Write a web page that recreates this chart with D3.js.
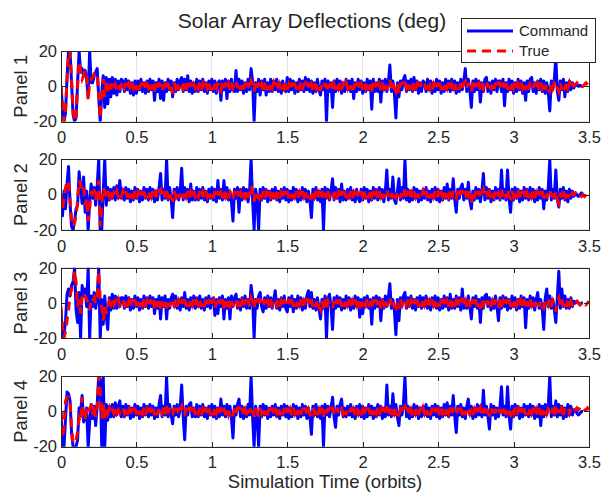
<!DOCTYPE html>
<html lang="en">
<head>
<meta charset="UTF-8">
<title>Solar Array Deflections (deg)</title>
<style>
body {
  margin: 0;
  background: #fff;
}
svg {
  display: block;
  font-family: "Liberation Sans", Arial, Helvetica, sans-serif;
}
.axis path,
.axis line {
  fill: none;
  stroke: #262626;
  shape-rendering: crispEdges;
}
.axis text {
  fill: #262626;
  font-size: 16.5px;
}
.grid line {
  stroke: #e6e6e6;
  shape-rendering: crispEdges;
}
.label {
  fill: #262626;
  font-size: 18.5px;
}
.legend text {
  fill: #262626;
  font-size: 15px;
}
</style>
</head>
<body>
<div class="vizHolder"></div>
<script src="https://cdnjs.cloudflare.com/ajax/libs/d3/7.8.5/d3.min.js"></script>
<script>
// sample times (orbits)
var times = [
  0,0.01,0.02,0.03,0.04,0.05,0.06,0.07,0.08,0.09,0.1,0.11,0.12,0.13,0.14,0.15,0.16,0.17,0.18,0.19,0.2,0.21,0.22,0.23,0.24,0.25,0.26,0.27,0.28,0.29,0.3,0.31,0.32,0.33,0.34,0.35,0.36,0.37,0.38,0.39,0.4,
  0.41,0.42,0.43,0.44,0.45,0.46,0.47,0.48,0.49,0.5,0.51,0.52,0.53,0.54,0.55,0.56,0.57,0.58,0.59,0.6,0.61,0.62,0.63,0.64,0.65,0.66,0.67,0.68,0.69,0.7,0.71,0.72,0.73,0.74,0.75,0.76,0.77,0.78,0.79,0.8,0.81,0.82,0.83,0.84,0.85,0.86,0.87,0.88,0.89,0.9,
  0.91,0.92,0.93,0.94,0.95,0.96,0.97,0.98,0.99,1,1.01,1.02,1.03,1.04,1.05,1.06,1.07,1.08,1.09,1.1,1.11,1.12,1.13,1.14,1.15,1.16,1.17,1.18,1.19,1.2,1.21,1.22,1.23,1.24,1.25,1.26,1.27,1.28,1.29,1.3,1.31,1.32,1.33,1.34,1.35,1.36,1.37,1.38,1.39,1.4,
  1.41,1.42,1.43,1.44,1.45,1.46,1.47,1.48,1.49,1.5,1.51,1.52,1.53,1.54,1.55,1.56,1.57,1.58,1.59,1.6,1.61,1.62,1.63,1.64,1.65,1.66,1.67,1.68,1.69,1.7,1.71,1.72,1.73,1.74,1.75,1.76,1.77,1.78,1.79,1.8,1.81,1.82,1.83,1.84,1.85,1.86,1.87,1.88,1.89,1.9,
  1.91,1.92,1.93,1.94,1.95,1.96,1.97,1.98,1.99,2,2.01,2.02,2.03,2.04,2.05,2.06,2.07,2.08,2.09,2.1,2.11,2.12,2.13,2.14,2.15,2.16,2.17,2.18,2.19,2.2,2.21,2.22,2.23,2.24,2.25,2.26,2.27,2.28,2.29,2.3,2.31,2.32,2.33,2.34,2.35,2.36,2.37,2.38,2.39,2.4,
  2.41,2.42,2.43,2.44,2.45,2.46,2.47,2.48,2.49,2.5,2.51,2.52,2.53,2.54,2.55,2.56,2.57,2.58,2.59,2.6,2.61,2.62,2.63,2.64,2.65,2.66,2.67,2.68,2.69,2.7,2.71,2.72,2.73,2.74,2.75,2.76,2.77,2.78,2.79,2.8,2.81,2.82,2.83,2.84,2.85,2.86,2.87,2.88,2.89,2.9,
  2.91,2.92,2.93,2.94,2.95,2.96,2.97,2.98,2.99,3,3.01,3.02,3.03,3.04,3.05,3.06,3.07,3.08,3.09,3.1,3.11,3.12,3.13,3.14,3.15,3.16,3.17,3.18,3.19,3.2,3.21,3.22,3.23,3.24,3.25,3.26,3.27,3.28,3.29,3.3,3.31,3.32,3.33,3.34,3.35,3.36,3.37,3.38,3.39,3.4,
  3.41,3.42,3.43,3.44,3.45,3.46,3.47,3.48,3.49,3.5
];

// Panel 1
var cmd1 = [
  0,-12,-20,-15,5,20,20,2,-16,-20,-18,2,20,8,10,6,9,4,-6,20,2,2,6,8,10,-6,-20,-4,6,-12,5,-10,4,-6,5,-4,4,-5,3,-3,4,
  3,-3,4,-2,3,-4,2,-5,3,-4, 3,-2,4,-3,2,-4,3,-3,4,-2, 3,-8,2,-3,4,-7,3,-8,2,-3, 4,-2,3,-6,2,-3,4,-2,3,5, -3,4,-2,6,-3,3,-4,2,-3,4,
  -3,3,-2,4,-3,2,-4,3,-2,4, -3,3,-4,2,3,-8,3,-2,4,-7, 3,-3,4,-2,-3,9,-3,4,-2,3, -4,2,-3,4,-2,10,3,-20,2,-3, 4,-5,3,-2,4,-5,2,-3,4,-3,
  3,-2,4,-3,2,-4,3,-2,-3,5, -3,4,-2,3,-4,2,-3,4,-2,3, -3,5,-2,4,-3,3,-4,2,-3,4, -2,-5,3,-2,4,-20,3,-3,2,-12, 3,-3,4,-2,3,-4,2,-3,4,-2,
  3,-3,4,-7,2,-3,4,-2,3,-4, 2,-3,4,-2,3,-13,4,-3,2,-3, 4,-9,3,-2,4,-3,2,12,-3,3, -4,-18,2,-6,3,-2,4,6,-3,3, -2,4,-3,5,-2,3,-4,2,-3,3,
  2,-3,4,-2,3,-4,2,-3,4,-2, 3,-4,2,-3,4,-2,3,-3,4,-2, 3,-4,2,-3,4,-2,3,10,-3,4, -2,-12,3,-3,4,-2,3,-9,2,-3, 4,5,-3,2,-4,3,-2,4,-3,3,
  3,-3,4,-11,2,-3,4,-2,3,-4, 2,-3,4,-2,3,-4,2,-8,3,-3, 4,5,-3,2,-4,3,-2,4,-3,3, -4,2,-3,-14,3,-2,4,16,-3,-8, 3,-2,4,-6,2,-3,3,-2,2,-1,
  1,0.5,0,0.5,0,0,null,null,null,null
];
var true1 = [
  0,-10,-20,-14,4,18,20,4,-14,-20,-16,0,14,8,4,6,9,8,-8,2,4,5,7,8,6,-4,-18,-6,4,-6,2,-3,2,-2,2,-1,1,-2,1,-1,1,
  2,-1,2,-2,1,-2,2,-1,2,-2, 1,-2,2,-1,2,-2,1,-1,2,-2, 1,-3,2,-1,2,-2,1,-3,2,-1, 2,-2,1,-4,2,-1,2,-2,1,2, -1,2,-2,2,-1,2,-2,1,-1,2,
  -1,2,-2,1,-2,2,-1,2,-2,1, -2,2,-1,2,-2,-3,2,-1,2,-2, 1,-2,2,-1,2,3,-1,2,-2,1, -2,2,-1,2,-2,3,1,-3,2,-1, 2,-2,1,-2,2,-2,1,-2,2,-1,
  2,-1,2,-2,1,-2,2,-1,2,-2, 1,-2,2,-1,2,-2,1,-1,2,-2, 1,2,-1,2,-2,1,-2,2,-1,2, -2,-2,1,-1,2,-3,1,-2,2,-2, 1,-2,2,-1,2,-2,1,-1,2,-1,
  2,-2,1,-2,2,-1,2,-2,1,-2, 2,-1,2,-2,1,-3,2,-1,2,-2, 1,-2,2,-1,2,-2,1,4,-1,2, -1,-3,1,-4,2,-1,2,2,-1,2, -2,2,-1,2,-2,1,-2,2,-1,1,
  1,-2,2,-1,2,-2,1,-2,2,-1, 2,-2,1,-2,2,-1,2,-2,1,-1, 2,-2,1,-2,2,-1,2,3,-1,2, -2,-3,2,-1,2,-2,1,-2,2,-1, 2,3,-1,2,-2,1,-2,2,-1,2,
  2,-2,2,-1,2,-2,1,-2,2,-1, 2,-2,1,-2,2,-1,2,-2,1,-2, 2,2,-1,2,-2,1,-2,2,-1,2, -2,1,-2,-3,2,-1,2,3,-1,-3, 2,-2,1,-2,2,-1,2,-1,1,0,
  1,2,1,0,-1,0,1,2,1,0
];

// Panel 2
var cmd2 = [
  -3,-12,2,-8,6,16,-5,-18,-20,-15,-8,-6,13,4,-5,10,-10,2,-20,-4,6,-2,4,-6,5,20,-20,-20,2,20,-6,4,-3,3,-2,4,-3,5,-2,8,-2,
  3,-3,4,-2,3,-4,2,-3,4,-2, 3,-4,2,-3,4,-2,3,-3,4,-2, 3,-4,2,-3,4,12,-3,3,-2,20, -3,4,-2,-13,3,-2,4,-3,2,15, -3,4,-2,3,-4,6,-3,2,-3,4,
  -3,3,-2,4,-3,2,-4,3,-2,4, -3,3,-4,8,-2,3,-3,8,-2,4, -3,2,-4,-15,3,-2,4,-10,3,-3, 4,-2,3,-4,2,20,-3,-20,3,-2, -20,3,-3,4,-2,3,-4,2,-3,3,
  -2,4,-3,2,-4,3,-2,4,-3,3, -4,2,-3,4,-2,3,-4,2,-3,4, -2,3,-4,2,-3,-13,3,-2,4,-3, 2,-4,3,-20,4,-2,3,-3,2,9, -3,4,-2,3,-4,6,-3,2,-3,3,
  -2,4,-3,2,-4,3,-2,-4,3,-3, 4,-2,3,-4,2,-3,4,-2,3,-3, 4,-2,3,-4,2,14,-3,3,-2,10, -3,-5,2,9,-3,4,-2,20,-3,3, -4,2,-3,4,-2,3,-4,2,-3,3,
  -2,4,-3,2,-4,3,-2,4,-3,3, -4,2,-3,4,-2,6,-3,3,-2,9, -3,-10,3,-2,4,6,-3,3,-2,7, -3,-8,2,-3,4,-2,3,-4,2,12, -3,4,-2,3,-4,2,-3,4,-2,3,
  -3,14,-2,3,-3,14,-2,-10,3,-3, 4,-2,3,-4,2,-3,4,-2,3,-3, 4,-2,3,-4,2,-3,4,-2,3,-8, 2,-3,4,20,-3,3,-2,14,-3,-7, 3,-2,4,-3,2,-4,3,-2,2,-1,
  1,0,-1,0,1,0,null,null,null,null
];
var true2 = [
  0,-8,-2,4,8,6,-2,-14,-18,-16,-12,-4,8,6,2,4,-6,-2,-15,-8,2,-2,3,-3,2,8,-18,-6,4,2,-2,2,-1,2,-1,1,-1,2,-1,1,-1,
  2,-1,2,-2,1,-2,2,-1,2,-2, 1,-2,2,-1,2,-2,1,-2,2,-1, 2,-2,1,-2,2,3,-1,2,-2,2, -1,2,-2,-3,2,-1,2,-2,1,2, -2,2,-1,2,-2,1,-2,2,-1,1,
  -1,2,-2,1,-2,2,-1,2,-2,1, -2,2,-1,2,-2,1,-2,2,-1,2, -2,1,-2,-2,2,-1,2,-2,1,-2, 2,-1,2,-2,3,5,1,-4,2,-1, -2,2,-1,2,-2,1,-2,2,-1,2,
  -2,2,-1,2,-2,1,-2,2,-1,2, -2,1,-2,2,-1,2,-2,1,-2,2, -1,2,-2,1,-2,-2,2,-1,2,-2, 1,-2,2,-3,1,-2,2,-1,2,2, -1,2,-2,1,-2,2,-1,2,-2,1,
  -1,2,-2,1,-2,2,-1,-2,2,-1, 2,-2,1,-2,2,-1,2,-2,1,-2, 2,-1,2,-2,1,3,-1,2,-2,2, -1,-2,1,2,-2,2,-1,3,-1,2, -2,1,-2,2,-1,2,-2,1,-1,2,
  -1,2,-2,1,-2,2,-1,2,-2,1, -2,2,-1,2,-2,2,-1,2,-2,2, -1,-2,2,-1,2,2,-1,2,-2,2, -3,-5,1,-2,2,-1,2,-2,1,3, -1,2,-2,1,-2,2,-1,2,-1,1,
  -1,3,-1,2,-2,3,-1,-2,2,-1, 2,-2,1,-2,2,-1,2,-2,1,-2, 2,-1,2,-2,1,-2,2,-1,2,-2, 1,-2,2,3,-1,2,-2,2,-3,-5, 1,-2,2,-1,2,-2,1,-1,1,0,
  1,2,1,0,-1,0,-1,0,1,0
];

// Panel 3
var cmd3 = [
  -4,-20,-18,-10,5,8,4,10,12,20,-4,-11,6,-20,10,4,8,-2,20,-20,4,-2,6,-3,4,20,-20,2,-12,4,-8,-15,3,-4,5,-3,4,-3,3,-2,3,
  3,-3,4,-2,3,-4,2,-3,4,-2, 3,-4,2,-3,4,-2,3,-3,4,-2, 3,-6,2,-3,4,-9,3,-2,4,-9, 2,-3,3,5,-2,4,-3,2,-4,3, -2,6,-3,2,-4,3,-2,4,-3,3,
  -2,4,-3,2,-4,3,-2,4,-3,2, 3,-7,2,-6,3,-2,4,-9,2,-3, 3,-9,4,-2,3,5,-3,2,-4,3, -2,4,-3,2,-3,10,3,-20,2,-3, 4,6,-2,-5,3,-3,4,-2,3,-3,
  2,7,-3,2,-4,3,-2,4,-3,-5, 3,-2,4,-5,2,-3,4,-2,3,-4, 2,-3,4,7,-2,6,-3,2,-4,3, -3,-9,2,-3,4,-20,3,5,-2,-15, 3,-3,4,-2,3,-4,2,-3,4,-2,
  3,-4,2,-3,4,-2,3,-8,2,-6, 3,-2,4,-3,2,-12,3,-3,4,-2, 3,-10,2,-3,4,-2,3,11,-3,2, -4,-18,2,-10,3,-2,4,6,-3,3, -2,4,-3,2,-4,3,-2,4,-3,3,
  -2,4,-3,2,-4,3,-2,4,-3,3, -4,2,-3,4,-2,3,-4,5,-3,2, -3,4,-2,3,-4,8,-3,2,-3,4, -2,-9,3,-2,4,-3,2,-11,3,-3, 4,5,-2,3,-4,2,-3,4,-2,-10,
  3,-3,4,-2,3,-4,2,-3,4,-2, 3,-4,2,-3,4,-2,3,-14,2,-3, 4,-2,3,-4,2,6,-3,2,-3,-15, 3,8,-2,4,-3,2,-4,-11,3,18, -3,8,-2,4,-3,2,-3,3,-2,1,
  0,1,0,-1,0,0,null,null,null,null
];
var true3 = [
  -2,-14,-20,-16,-10,-4,4,8,10,18,12,-2,2,-6,4,6,4,2,0,-4,2,1,3,0,4,18,2,-2,-10,-2,-6,-2,1,-1,2,-1,1,-1,2,-1,1,
  2,-1,2,-2,1,-2,2,-1,2,-2, 1,-2,2,-1,2,-2,1,-2,2,-1, 2,-3,1,-2,2,-3,1,-2,2,-3, 1,-2,2,2,-1,2,-2,1,-2,2, -1,2,-2,1,-2,2,-1,2,-2,1,
  -1,2,-2,1,-2,2,-1,2,-2,1, 2,-3,1,-2,2,-1,2,-3,1,-2, 2,-3,1,-2,2,2,-1,2,-2,1, -2,2,-1,2,-2,3,1,-3,2,-1, 2,2,-1,-2,2,-2,1,-2,2,-1,
  2,2,-1,2,-2,1,-2,2,-1,-2, 2,-1,2,-2,1,-2,2,-1,2,-2, 1,-2,2,2,-1,2,-2,1,-2,2, -2,-4,1,-3,2,-4,1,-1,-2,-3, 1,-2,2,-1,2,-2,1,-2,2,-1,
  2,-2,1,-2,2,-1,2,-3,1,-2, 2,-1,2,-2,1,-3,2,-1,2,-2, 1,-3,2,-1,2,-2,1,3,-1,2, -2,-3,1,-3,2,-1,2,2,-1,2, -2,1,-2,2,-1,2,-2,1,-2,2,
  -1,2,-2,1,-2,2,-1,2,-2,1, -2,2,-1,2,-2,1,-2,2,-1,2, -2,1,-2,2,-1,3,-2,1,-2,2, -1,-3,2,-1,2,-2,1,-3,2,-1, 2,3,-1,2,-2,1,-2,2,-1,-3,
  2,-2,1,-2,2,-1,2,-2,1,-2, 2,-1,2,-2,1,-2,2,-3,1,-2, 2,-1,2,-2,1,2,-2,1,-2,-3, 2,2,-1,2,-2,1,-2,-5,1,3, -1,2,-2,1,-2,2,-1,1,-1,1,
  0,1,0,-1,0,1,0,-1,0,1
];

// Panel 4
var cmd4 = [
  0,-20,-20,-4,11,10,6,-12,-20,-20,-20,-16,2,0,9,-6,-4,2,-20,-6,4,-4,3,-8,4,20,18,-20,20,-20,4,-5,3,-3,4,-3,5,-2,3,6,-3,
  3,-3,4,-2,3,-4,2,-3,4,-2, 3,-4,2,-3,4,-2,3,-3,4,-2, 3,-4,2,-3,4,9,-3,3,-2,20, -3,4,-2,-7,3,-2,4,-3,2,15, -3,-16,3,-2,4,5,-3,2,-3,4,
  -3,3,-2,4,-3,2,-4,3,-2,4, -3,3,-4,2,-3,7,-2,3,-3,4, -2,3,-4,-15,3,-2,4,7,-3,3, -4,2,-3,4,-2,20,-3,-20,3,-2, -20,3,-3,4,-2,3,-4,2,-3,3,
  -2,4,-3,2,-4,3,-2,4,-3,3, -4,2,-3,4,-2,3,-4,2,-3,4, -2,3,-4,2,-3,-13,3,-2,4,-3, 2,-4,3,-20,4,-2,3,-3,2,8, -3,-9,3,-2,4,7,-3,2,-3,3,
  -2,4,-3,2,-4,3,-2,4,-3,3, -4,2,-3,4,-2,3,-4,2,-3,4, -2,3,-4,2,-3,15,-2,3,-3,10, -2,4,-3,-8,3,-2,4,20,-3,3, -4,2,-3,4,-2,3,-4,2,-3,3,
  -2,4,-3,2,-4,3,-2,4,-3,3, -4,2,-3,4,-2,5,-3,3,-2,9, -3,-12,3,-2,4,-3,2,-4,3,7, -2,3,-4,2,-3,4,-2,3,-3,12, -2,3,-3,-10,4,-2,3,-4,2,-3,
  3,14,-2,3,-3,14,-2,-10,3,-3, 4,-2,3,-4,2,-3,4,-2,3,-3, 4,-2,3,-4,2,-3,4,-8,3,-3, 4,-2,3,20,-3,3,-2,6,-3,4, -2,3,-4,2,-3,4,-2,3,-2,1,
  1,-1,-2,-1,0,0,null,null,null,null
];
var true4 = [
  0,-15,-8,6,8,8,5,-10,-18,-18,-16,-12,-4,-6,8,-5,-4,0,-2,2,3,-2,4,-3,2,20,12,-4,4,-4,2,-1,2,-1,1,-1,2,-1,1,-1,1,
  2,-1,2,-2,1,-2,2,-1,2,-2, 1,-2,2,-1,2,-2,1,-2,2,-1, 2,-2,1,-2,2,2,-1,2,-2,3, -1,2,-2,-2,2,-1,2,-2,1,3, -2,-2,2,-1,2,2,-1,2,-2,1,
  -1,2,-2,1,-2,2,-1,2,-2,1, -2,2,-1,2,-2,2,-1,2,-2,1, -2,1,-2,-2,2,-1,2,2,-1,2, -2,1,-2,2,-1,3,1,-3,2,-1, -2,2,-1,2,-2,1,-2,2,-1,2,
  -2,2,-1,2,-2,1,-2,2,-1,2, -2,1,-2,2,-1,2,-2,1,-2,2, -1,2,-2,1,-2,-2,2,-1,2,-2, 1,-2,2,-3,1,-2,2,-1,2,2, -2,-2,2,-1,2,2,-1,2,-2,1,
  -1,2,-2,1,-2,2,-1,2,-2,1, -2,2,-1,2,-2,1,-2,2,-1,2, -2,1,-2,2,-1,3,-1,2,-2,2, -1,2,-2,-2,1,-1,2,3,-1,2, -2,1,-2,2,-1,2,-2,1,-1,2,
  -1,2,-2,1,-2,2,-1,2,-2,1, -2,2,-1,2,-2,2,-1,2,-2,2, -1,-2,2,-1,2,-2,1,-2,2,2, -1,2,-2,1,-2,2,-1,2,-1,3, -1,3,-1,-2,2,-1,3,-1,2,3,
  -1,3,-1,3,-2,2,-1,-2,2,-1, 2,-2,1,-2,2,-1,2,-2,1,-2, 2,-1,2,-2,1,-2,2,-2,1,-2, 2,-1,2,3,-1,2,-2,4,-1,2, -1,3,-2,2,1,2,-1,2,1,2,
  1,2,1,2,3,2,1,1,2,1
];

var panelNames = ["Panel 1", "Panel 2", "Panel 3", "Panel 4"];
var commands = [cmd1, cmd2, cmd3, cmd4];
var truths = [true1, true2, true3, true4];
var xTicks = [0, 0.5, 1, 1.5, 2, 2.5, 3, 3.5];
var yTicks = [-20, 0, 20];

var W = 601, H = 493;
var left = 61, right = 589;
var firstTop = 51, panelStep = 108.4, panelH = 70.5;

commands.concat(truths).forEach(function (s) {
  if (s.length !== times.length) console.log("length mismatch", s.length, times.length);
});

var svg = d3.select(".vizHolder").
append("svg").
attr("width", W).
attr("height", H);

var xScale = d3.scaleLinear().
domain([0, 3.5]).
range([left, right]);

var line = d3.line().
defined(function (d) { return d[1] !== null && d[1] !== undefined; });

panelNames.forEach(function (name, i) {
  var top = firstTop + i * panelStep;
  var yScale = d3.scaleLinear().
  domain([-20, 20]).
  range([top + panelH, top]);

  var g = svg.append("g");

  g.append("clipPath").
  attr("id", "clip" + i).
  append("rect").
  attr("x", left).
  attr("y", top).
  attr("width", right - left).
  attr("height", panelH);

  // grid
  g.append("g").
  attr("class", "grid").
  selectAll("line").
  data(xTicks).
  enter().append("line").
  attr("x1", xScale).
  attr("x2", xScale).
  attr("y1", top).
  attr("y2", top + panelH);
  g.append("g").
  attr("class", "grid").
  selectAll("line").
  data(yTicks).
  enter().append("line").
  attr("x1", left).
  attr("x2", right).
  attr("y1", yScale).
  attr("y2", yScale);

  var pts = function (vals) {
    return times.map(function (t, k) { return [t, vals[k]]; });
  };
  line.x(function (d) { return xScale(d[0]); }).
  y(function (d) { return yScale(d[1]); });

  var data = g.append("g").attr("clip-path", "url(#clip" + i + ")");
  data.append("path").
  attr("d", line(pts(commands[i]))).
  attr("fill", "none").
  attr("stroke", "#0000ff").
  attr("stroke-width", 3).
  attr("stroke-linejoin", "round");
  data.append("path").
  attr("d", line(pts(truths[i]))).
  attr("fill", "none").
  attr("stroke", "#ff0000").
  attr("stroke-width", 3).
  attr("stroke-dasharray", "9,6");

  // axes, ticks pointing inward
  g.append("g").
  attr("class", "axis").
  attr("transform", "translate(0," + (top + panelH) + ")").
  call(d3.axisBottom(xScale).tickValues(xTicks).tickFormat(function (d) { return d; }).
  tickSize(-5).tickSizeOuter(0).tickPadding(10));
  g.append("g").
  attr("class", "axis").
  attr("transform", "translate(0," + top + ")").
  call(d3.axisTop(xScale).tickValues(xTicks).tickFormat("").tickSize(-5).tickSizeOuter(0));
  g.append("g").
  attr("class", "axis").
  attr("transform", "translate(" + left + ",0)").
  call(d3.axisLeft(yScale).tickValues(yTicks).tickFormat(function (d) { return d; }).
  tickSize(-5).tickSizeOuter(0).tickPadding(4));
  g.append("g").
  attr("class", "axis").
  attr("transform", "translate(" + right + ",0)").
  call(d3.axisRight(yScale).tickValues(yTicks).tickFormat("").tickSize(-5).tickSizeOuter(0));

  g.append("text").
  attr("class", "label").
  attr("transform", "translate(27," + (top + panelH / 2) + ") rotate(-90)").
  attr("text-anchor", "middle").
  text(name);
});

svg.append("text").
attr("class", "label").
attr("x", 312).
attr("y", 28).
attr("text-anchor", "middle").
style("font-size", "21px").
text("Solar Array Deflections (deg)");

svg.append("text").
attr("class", "label").
attr("x", 325).
attr("y", 488).
attr("text-anchor", "middle").
text("Simulation Time (orbits)");

// legend
var legend = svg.append("g").attr("class", "legend");
legend.append("rect").
attr("x", 461.5).
attr("y", 18.5).
attr("width", 134).
attr("height", 44).
attr("fill", "#fff").
attr("stroke", "#262626");
legend.append("line").
attr("x1", 467).attr("x2", 513).
attr("y1", 31).attr("y2", 31).
attr("stroke", "#0000ff").
attr("stroke-width", 3);
legend.append("line").
attr("x1", 467).attr("x2", 513).
attr("y1", 51).attr("y2", 51).
attr("stroke", "#ff0000").
attr("stroke-width", 3).
attr("stroke-dasharray", "9,6");
legend.append("text").attr("x", 519).attr("y", 36).text("Command");
legend.append("text").attr("x", 519).attr("y", 56).text("True");
</script>
</body>
</html>
